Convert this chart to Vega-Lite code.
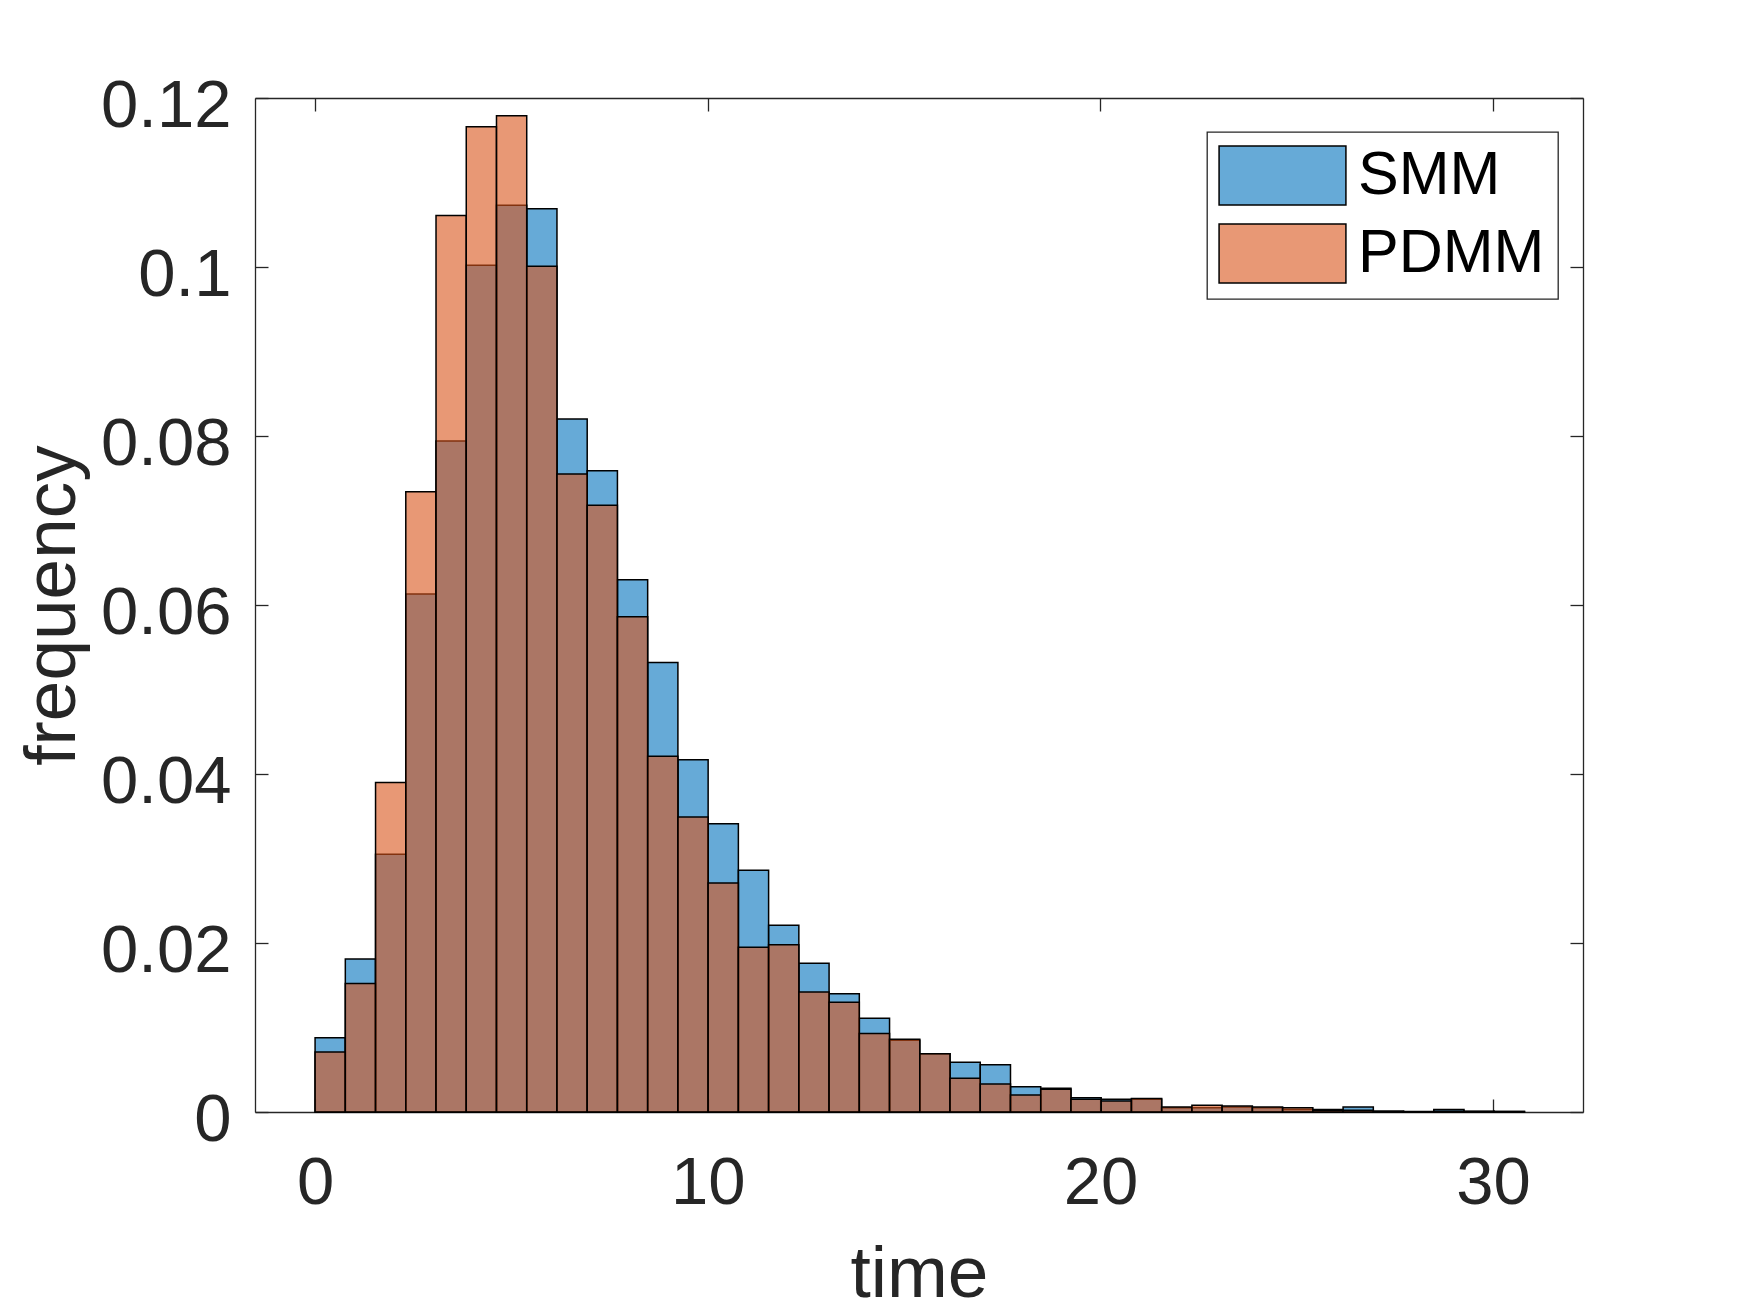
{
  "$schema": "https://vega.github.io/schema/vega-lite/v6.json",
  "width": 1328,
  "height": 1014,
  "autosize": {"type": "none"},
  "padding": {"left": 255, "top": 98, "right": 167, "bottom": 201},
  "background": "white",
  "data": {
    "values": [
      {"series": "SMM", "x0": 0, "x1": 0.77, "freq": 0.0088},
      {"series": "SMM", "x0": 0.77, "x1": 1.54, "freq": 0.0181},
      {"series": "SMM", "x0": 1.54, "x1": 2.31, "freq": 0.0305},
      {"series": "SMM", "x0": 2.31, "x1": 3.08, "freq": 0.0613},
      {"series": "SMM", "x0": 3.08, "x1": 3.85, "freq": 0.0794},
      {"series": "SMM", "x0": 3.85, "x1": 4.62, "freq": 0.1002},
      {"series": "SMM", "x0": 4.62, "x1": 5.39, "freq": 0.1073},
      {"series": "SMM", "x0": 5.39, "x1": 6.16, "freq": 0.1069},
      {"series": "SMM", "x0": 6.16, "x1": 6.93, "freq": 0.0820},
      {"series": "SMM", "x0": 6.93, "x1": 7.7, "freq": 0.0759},
      {"series": "SMM", "x0": 7.7, "x1": 8.47, "freq": 0.0630},
      {"series": "SMM", "x0": 8.47, "x1": 9.24, "freq": 0.0532},
      {"series": "SMM", "x0": 9.24, "x1": 10.01, "freq": 0.0417},
      {"series": "SMM", "x0": 10.01, "x1": 10.78, "freq": 0.0341},
      {"series": "SMM", "x0": 10.78, "x1": 11.55, "freq": 0.0286},
      {"series": "SMM", "x0": 11.55, "x1": 12.32, "freq": 0.0221},
      {"series": "SMM", "x0": 12.32, "x1": 13.09, "freq": 0.0176},
      {"series": "SMM", "x0": 13.09, "x1": 13.86, "freq": 0.0140},
      {"series": "SMM", "x0": 13.86, "x1": 14.63, "freq": 0.0111},
      {"series": "SMM", "x0": 14.63, "x1": 15.4, "freq": 0.0085},
      {"series": "SMM", "x0": 15.4, "x1": 16.17, "freq": 0.0069},
      {"series": "SMM", "x0": 16.17, "x1": 16.94, "freq": 0.0059},
      {"series": "SMM", "x0": 16.94, "x1": 17.71, "freq": 0.0056},
      {"series": "SMM", "x0": 17.71, "x1": 18.48, "freq": 0.0030},
      {"series": "SMM", "x0": 18.48, "x1": 19.25, "freq": 0.0028},
      {"series": "SMM", "x0": 19.25, "x1": 20.02, "freq": 0.0017},
      {"series": "SMM", "x0": 20.02, "x1": 20.79, "freq": 0.0015},
      {"series": "SMM", "x0": 20.79, "x1": 21.56, "freq": 0.0015},
      {"series": "SMM", "x0": 21.56, "x1": 22.33, "freq": 0.0005},
      {"series": "SMM", "x0": 22.33, "x1": 23.1, "freq": 0.0005},
      {"series": "SMM", "x0": 23.1, "x1": 23.87, "freq": 0.0006},
      {"series": "SMM", "x0": 23.87, "x1": 24.64, "freq": 0.0005},
      {"series": "SMM", "x0": 24.64, "x1": 25.41, "freq": 0.0003},
      {"series": "SMM", "x0": 25.41, "x1": 26.18, "freq": 0.0003},
      {"series": "SMM", "x0": 26.18, "x1": 26.95, "freq": 0.0006},
      {"series": "SMM", "x0": 26.95, "x1": 27.72, "freq": 0.0001},
      {"series": "SMM", "x0": 27.72, "x1": 28.49, "freq": 0.00003},
      {"series": "SMM", "x0": 28.49, "x1": 29.26, "freq": 0.0003},
      {"series": "SMM", "x0": 29.26, "x1": 30.03, "freq": 0.0001},
      {"series": "SMM", "x0": 30.03, "x1": 30.8, "freq": 0.00005},
      {"series": "PDMM", "x0": 0, "x1": 0.77, "freq": 0.0071},
      {"series": "PDMM", "x0": 0.77, "x1": 1.54, "freq": 0.0152},
      {"series": "PDMM", "x0": 1.54, "x1": 2.31, "freq": 0.0390},
      {"series": "PDMM", "x0": 2.31, "x1": 3.08, "freq": 0.0734},
      {"series": "PDMM", "x0": 3.08, "x1": 3.85, "freq": 0.1061},
      {"series": "PDMM", "x0": 3.85, "x1": 4.62, "freq": 0.1166},
      {"series": "PDMM", "x0": 4.62, "x1": 5.39, "freq": 0.1179},
      {"series": "PDMM", "x0": 5.39, "x1": 6.16, "freq": 0.1001},
      {"series": "PDMM", "x0": 6.16, "x1": 6.93, "freq": 0.0755},
      {"series": "PDMM", "x0": 6.93, "x1": 7.7, "freq": 0.0718},
      {"series": "PDMM", "x0": 7.7, "x1": 8.47, "freq": 0.0586},
      {"series": "PDMM", "x0": 8.47, "x1": 9.24, "freq": 0.0421},
      {"series": "PDMM", "x0": 9.24, "x1": 10.01, "freq": 0.0349},
      {"series": "PDMM", "x0": 10.01, "x1": 10.78, "freq": 0.0271},
      {"series": "PDMM", "x0": 10.78, "x1": 11.55, "freq": 0.0195},
      {"series": "PDMM", "x0": 11.55, "x1": 12.32, "freq": 0.0198},
      {"series": "PDMM", "x0": 12.32, "x1": 13.09, "freq": 0.0142},
      {"series": "PDMM", "x0": 13.09, "x1": 13.86, "freq": 0.0130},
      {"series": "PDMM", "x0": 13.86, "x1": 14.63, "freq": 0.0093},
      {"series": "PDMM", "x0": 14.63, "x1": 15.4, "freq": 0.0086},
      {"series": "PDMM", "x0": 15.4, "x1": 16.17, "freq": 0.0069},
      {"series": "PDMM", "x0": 16.17, "x1": 16.94, "freq": 0.0040},
      {"series": "PDMM", "x0": 16.94, "x1": 17.71, "freq": 0.0033},
      {"series": "PDMM", "x0": 17.71, "x1": 18.48, "freq": 0.0020},
      {"series": "PDMM", "x0": 18.48, "x1": 19.25, "freq": 0.0027},
      {"series": "PDMM", "x0": 19.25, "x1": 20.02, "freq": 0.0015},
      {"series": "PDMM", "x0": 20.02, "x1": 20.79, "freq": 0.0013},
      {"series": "PDMM", "x0": 20.79, "x1": 21.56, "freq": 0.0016},
      {"series": "PDMM", "x0": 21.56, "x1": 22.33, "freq": 0.0006},
      {"series": "PDMM", "x0": 22.33, "x1": 23.1, "freq": 0.0008},
      {"series": "PDMM", "x0": 23.1, "x1": 23.87, "freq": 0.0007},
      {"series": "PDMM", "x0": 23.87, "x1": 24.64, "freq": 0.0006},
      {"series": "PDMM", "x0": 24.64, "x1": 25.41, "freq": 0.0005},
      {"series": "PDMM", "x0": 25.41, "x1": 26.18, "freq": 0.0002},
      {"series": "PDMM", "x0": 26.18, "x1": 26.95, "freq": 0.0002},
      {"series": "PDMM", "x0": 26.95, "x1": 27.72, "freq": 0.0001},
      {"series": "PDMM", "x0": 27.72, "x1": 28.49, "freq": 0.00005},
      {"series": "PDMM", "x0": 28.49, "x1": 29.26, "freq": 0.0001},
      {"series": "PDMM", "x0": 29.26, "x1": 30.03, "freq": 0.00005},
      {"series": "PDMM", "x0": 30.03, "x1": 30.8, "freq": 0.00005}
    ]
  },
  "layer": [
    {
      "mark": {"type": "rect", "fillOpacity": 0.6, "stroke": "black", "strokeWidth": 1.5, "strokeOpacity": 1},
      "encoding": {
        "x": {
          "field": "x0", "type": "quantitative",
          "scale": {"domain": [-1.53, 32.29], "nice": false, "zero": false},
          "axis": {
            "orient": "bottom", "values": [0, 10, 20, 30], "title": "time",
            "tickSize": -13, "labelPadding": 51, "titleX": 664, "titleY": 184,
            "titleBaseline": "alphabetic", "titleAlign": "center"
          }
        },
        "x2": {"field": "x1"},
        "y": {
          "field": "freq", "type": "quantitative",
          "scale": {"domain": [0, 0.12], "nice": false, "zero": true},
          "axis": {
            "orient": "left", "values": [0, 0.02, 0.04, 0.06, 0.08, 0.1, 0.12], "format": ".2~g",
            "title": "frequency", "tickSize": -13, "labelPadding": 37, "labelOffset": 8,
            "titleX": -181, "titleY": 507, "titleAngle": -90,
            "titleBaseline": "alphabetic", "titleAlign": "center"
          }
        },
        "y2": {"datum": 0},
        "color": {
          "field": "series", "type": "nominal",
          "scale": {"domain": ["SMM", "PDMM"], "range": ["#0072BD", "#D95319"]},
          "legend": {
            "orient": "none", "legendX": 952, "legendY": 34, "title": null,
            "strokeColor": "#262626", "fillColor": "white", "padding": 13,
            "symbolType": "M-2.15,-1H2.15V1H-2.15Z", "symbolSize": 3481, "symbolOffset": 32,
            "symbolStrokeColor": "black", "symbolStrokeWidth": 1.5,
            "labelFont": "Liberation Sans", "labelFontSize": 61, "labelColor": "black",
            "labelOffset": 45, "labelLimit": 500, "rowPadding": 13,
            "encode": {"symbols": {"update": {"fillOpacity": {"value": 0.6}, "stroke": {"value": "black"}, "strokeOpacity": {"value": 1}}}}
          }
        }
      }
    },
    {
      "mark": {"type": "rect", "opacity": 0},
      "encoding": {
        "x": {
          "field": "x0", "type": "quantitative",
          "axis": {"orient": "top", "values": [0, 10, 20, 30], "labels": false, "title": null, "tickSize": -13}
        },
        "x2": {"field": "x1"},
        "y": {
          "field": "freq", "type": "quantitative",
          "axis": {"orient": "right", "values": [0, 0.02, 0.04, 0.06, 0.08, 0.1, 0.12], "labels": false, "title": null, "tickSize": -13}
        },
        "y2": {"datum": 0}
      }
    }
  ],
  "resolve": {"axis": {"x": "independent", "y": "independent"}},
  "config": {
    "view": {"stroke": null},
    "axis": {
      "grid": false,
      "domainColor": "#262626", "domainWidth": 1.3,
      "tickColor": "#262626", "tickWidth": 1.3,
      "labelFont": "Liberation Sans", "labelFontSize": 67, "labelColor": "#262626",
      "labelFlush": false, "labelOverlap": false,
      "titleFont": "Liberation Sans", "titleFontSize": 73, "titleFontWeight": "normal", "titleColor": "#262626"
    },
    "legend": {"strokeWidth": 1.3}
  }
}
